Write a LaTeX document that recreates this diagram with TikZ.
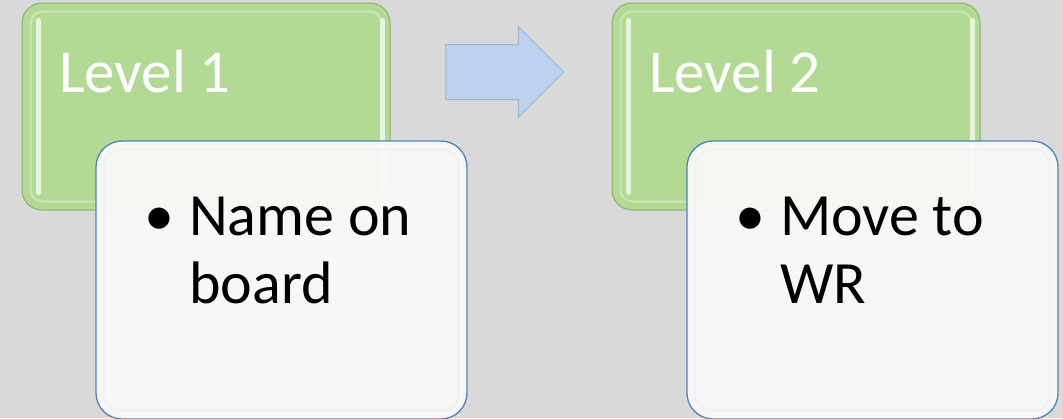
\documentclass[tikz,border=0pt]{standalone}
\usepackage{fontspec}
\setmainfont{Carlito}
\usepackage{xcolor}
\usetikzlibrary{shapes.arrows}

\definecolor{bggray}{HTML}{D9D9D9}
\definecolor{lvlgreen}{HTML}{B2DA95}
\definecolor{lvledge}{HTML}{8AB26C}
\definecolor{notefill}{HTML}{FAFAFA}
\definecolor{noteedge}{HTML}{4F81BD}
\definecolor{arrfill}{HTML}{BCD2EE}
\definecolor{arredge}{HTML}{9DB3CF}

\begin{document}
\begin{tikzpicture}[x=1pt, y=-1pt,
    lvlbox/.style={draw=lvledge, fill=lvlgreen, rounded corners=20pt, line width=1pt,
        minimum width=368pt, minimum height=207pt, inner sep=0pt},
    notebox/.style={draw=noteedge, fill=notefill, fill opacity=0.93, rounded corners=26pt,
        line width=1.3pt, minimum width=371pt, minimum height=278pt, inner sep=0pt},
    shine/.style={white!70!lvlgreen, line width=5pt, line cap=round},
    lvltext/.style={anchor=base west, inner sep=0pt, text=white, font=\fontsize{61}{74}\selectfont},
    notetext/.style={anchor=base west, inner sep=0pt, font=\fontsize{60}{68}\selectfont}]
        \fill[bggray] (0,0) rectangle (1063,418);
        \useasboundingbox (0,0) rectangle (1063,418);

        \node (lvl1) at (206, 106.5) [lvlbox] {};
        \node (lvl2) at (796, 106.5) [lvlbox] {};
        % bevel
        \foreach \b in {lvl1, lvl2} {
            \draw[white, opacity=0.3, line width=2pt, rounded corners=12pt]
                ([shift={(9,9)}]\b.north west) rectangle ([shift={(-9,-9)}]\b.south east);
            \draw[shine] ([shift={(17,18)}]\b.north west) -- ([shift={(17,-18)}]\b.south west);
            \draw[shine] ([shift={(-8,18)}]\b.north east) -- ([shift={(-8,-18)}]\b.south east);
        }

        \node (arr) at (491, 72) [single arrow, draw=arredge, fill=arrfill, line width=1pt,
            minimum height=118pt, text height=54pt, text depth=0pt, text width=0pt,
            single arrow head extend=18pt, single arrow tip angle=90, inner sep=0pt] {};

        \node (note1) at (281.5, 280) [notebox] {};
        \node (note2) at (872.5, 280) [notebox] {};
        \foreach \b in {note1, note2}
            \draw[gray!10, line width=2pt, rounded corners=16pt]
                ([shift={(9,9)}]\b.north west) rectangle ([shift={(-9,-9)}]\b.south east);

        \node (lvl1txt) at (59, 92) [lvltext] {Level 1};
        \node (lvl2txt) at (649, 92) [lvltext] {Level 2};
        \node (note1txt) at (144, 235) [notetext]
            {\begin{tabular}[t]{@{}l@{}l@{}}\makebox[45pt][l]{•} & Name on\\ & board\end{tabular}};
        \node (note2txt) at (735, 235) [notetext]
            {\begin{tabular}[t]{@{}l@{}l@{}}\makebox[45pt][l]{•} & Move to\\ & WR\end{tabular}};
    \end{tikzpicture}
\end{document}
